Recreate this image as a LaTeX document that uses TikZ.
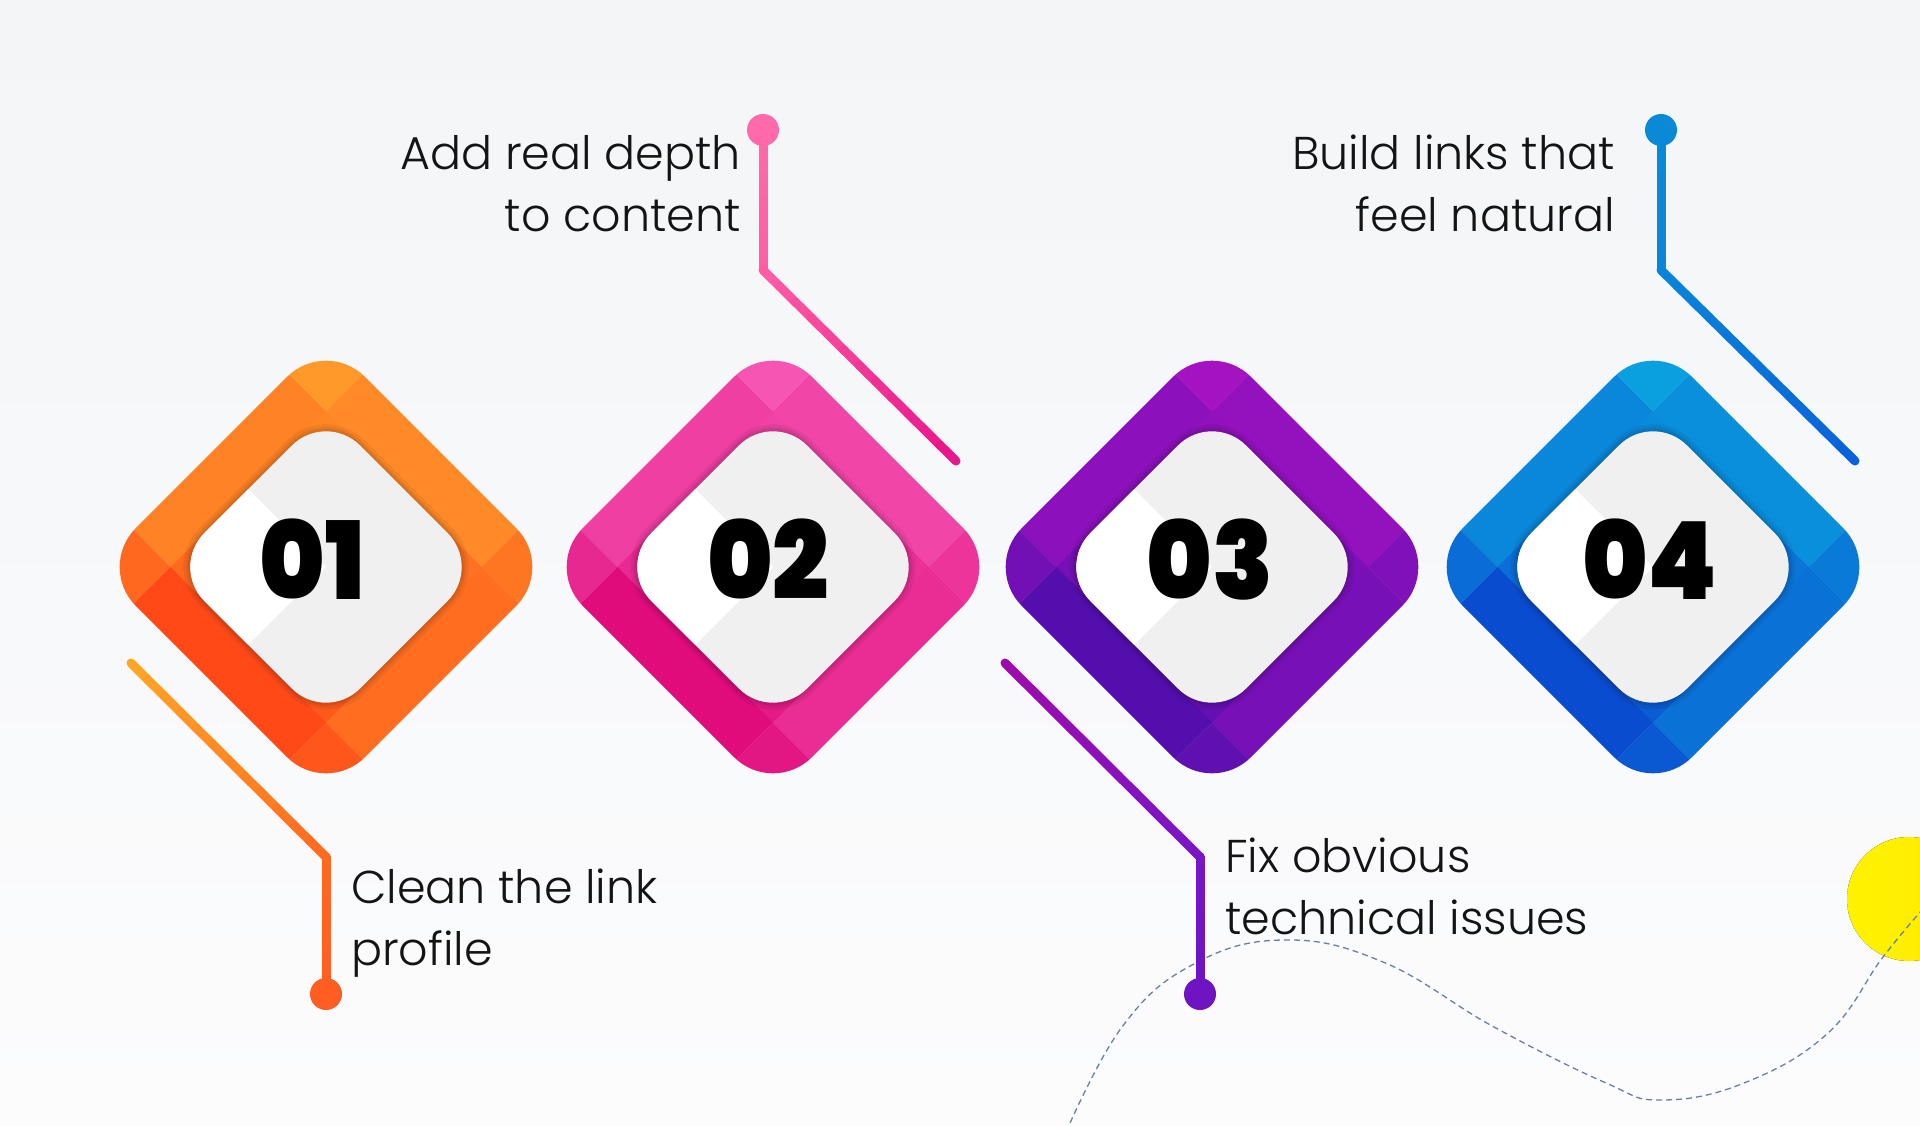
\documentclass[tikz,border=0pt]{standalone}
\usepackage{fontspec}
\usetikzlibrary{calc}
\newfontfamily\lightfont{Poppins}[UprightFont=* Light]
\newfontfamily\numfont{Poppins}[UprightFont=* Black, FakeStretch=0.92]
% background
\definecolor{bgtop}{HTML}{F3F5F7}
\definecolor{bgbot}{HTML}{FCFCFD}
% diamond colours
\definecolor{orT}{HTML}{FF9A2A}\definecolor{orB}{HTML}{FF4A18}
\definecolor{piT}{HTML}{F655B3}\definecolor{piB}{HTML}{E00C7C}
\definecolor{puT}{HTML}{A412C2}\definecolor{puB}{HTML}{540EAE}
\definecolor{blT}{HTML}{0AA0E0}\definecolor{blB}{HTML}{0A4CD0}
\definecolor{innergray}{HTML}{F0F0F0}
% connector colours
\definecolor{oA}{HTML}{FFA826}\definecolor{oB}{HTML}{FF6A20}\definecolor{oC}{HTML}{FF5E22}
\definecolor{pA}{HTML}{FF6AAA}\definecolor{pB}{HTML}{FF5FA5}\definecolor{pC}{HTML}{E8148C}
\definecolor{uA}{HTML}{A00AAC}\definecolor{uB}{HTML}{7A16C6}\definecolor{uC}{HTML}{6E14C0}
\definecolor{bA}{HTML}{0A8AD6}\definecolor{bB}{HTML}{0A86D8}\definecolor{bC}{HTML}{0A62DC}
\definecolor{dashcol}{HTML}{6A7FA8}
\definecolor{yel}{HTML}{FFEA00}\definecolor{yelL}{HTML}{FFF200}
\definecolor{txt}{HTML}{141414}

% mapping in the rotated frame: top=(+,-), right=(+,+), bottom=(-,+), left=(-,-)
\newcommand{\facetdiamond}[4]{%
\begin{scope}[shift={(#1,#2)}, rotate=45]
  \begin{scope}
    \clip[rounded corners=55pt] (-162,-162) rectangle (162,162);
    % inner quadrants (seen only in the rounded cut-outs of the inner square)
    \fill[#4!25!#3] (0,0) rectangle (111,-111);
    \fill[#4!50!#3] (0,0) rectangle (111,111);
    \fill[#4!80!#3] (0,0) rectangle (-111,111);
    \fill[#4!60!#3] (0,0) rectangle (-111,-111);
    % ring facets
    \fill[#4!0!#3]   (110,-200) rectangle (200,-110);   % top corner
    \fill[#4!20!#3]  (110,-110) rectangle (200,110);    % upper-right band
    \fill[#4!30!#3]  (-110,-200) rectangle (110,-110);  % upper-left band
    \fill[#4!45!#3]  (110,110) rectangle (200,200);     % right corner
    \fill[#4!55!#3]  (-110,110) rectangle (110,200);    % lower-right band
    \fill[#4!62!#3]  (-200,-200) rectangle (-110,-110); % left corner
    \fill[#4!85!#3]  (-200,110) rectangle (-110,200);   % bottom corner
    \fill[#4!100!#3] (-200,-110) rectangle (-110,110);  % lower-left band
  \end{scope}
  \foreach \s in {7,4,2}{
    \fill[black, opacity=0.06, rounded corners=48pt+\s pt] (-110-\s,-110-\s) rectangle (110+\s,110+\s);
  }
  \fill[innergray, rounded corners=48pt] (-110,-110) rectangle (110,110);
  \begin{scope}
    \clip[rounded corners=48pt] (-110,-110) rectangle (110,110);
    \fill[white] (-120,-120) rectangle (0,0);
  \end{scope}
\end{scope}}

\newcommand{\gradseg}[4]{%
  \foreach \k in {0,...,11}{%
    \pgfmathsetmacro\ta{\k/12}%
    \pgfmathsetmacro\tb{(\k+1)/12}%
    \pgfmathtruncatemacro\pc{100-(\k+0.5)*100/12}%
    \draw[conn, color=#3!\pc!#4] ($(#1)!\ta!(#2)$) -- ($(#1)!\tb!(#2)$);
  }}

\tikzset{
  conn/.style={line width=9pt, line cap=round},
  dotst/.style={circle, inner sep=0pt, minimum size=32pt, draw=none},
  numst/.style={anchor=base, inner sep=0pt, text=black, font=\numfont\fontsize{108pt}{108pt}\selectfont},
  lbl/.style={inner sep=0pt, text=txt, font=\lightfont\fontsize{46pt}{62pt}\selectfont},
}

\begin{document}
\begin{tikzpicture}[x=1pt, y=-1pt]
\useasboundingbox (0,0) rectangle (1920,1126);
\clip (0,0) rectangle (1920,1126);
\fill[top color=bgtop, bottom color=bgbot] (0,0) rectangle (1920,1126);

% yellow circle and dashed curve
\fill[left color=yelL, right color=yel] (1909,899) circle[radius=62];
\draw[dashcol, line width=1.3pt, dash pattern=on 6pt off 4pt]
  plot[smooth, tension=0.7] coordinates {(1066,1132) (1122,1027) (1192,965) (1283,940) (1383,962) (1494,1027) (1606,1083) (1661,1100) (1744,1083) (1828,1033) (1883,957) (1928,903)};

% diamonds
\coordinate (c1) at (326,567);
\coordinate (c2) at (773,567);
\coordinate (c3) at (1212,567);
\coordinate (c4) at (1653,567);
\facetdiamond{326}{567}{orT}{orB}
\facetdiamond{773}{567}{piT}{piB}
\facetdiamond{1212}{567}{puT}{puB}
\facetdiamond{1653}{567}{blT}{blB}

\node[numst] (n1) at (312,599) {01};
\node[numst] (n2) at (768,599) {02};
\node[numst] (n3) at (1210,599) {03};
\node[numst] (n4) at (1650,599) {04};

% connector 1 (orange)
\coordinate (s1) at (131,663);
\coordinate (k1) at (326,857);
\node[dotst, fill=oC] (d1) at (326,994) {};
\gradseg{s1}{k1}{oA}{oB}
\gradseg{k1}{d1.center}{oB}{oC}

% connector 2 (pink)
\node[dotst, fill=pA] (d2) at (763,130) {};
\coordinate (k2) at (763,270);
\coordinate (e2) at (956,461);
\gradseg{d2.center}{k2}{pA}{pB}
\gradseg{k2}{e2}{pB}{pC}

% connector 3 (purple)
\coordinate (s3) at (1005,663);
\coordinate (k3) at (1200,857);
\node[dotst, fill=uC] (d3) at (1200,994) {};
\gradseg{s3}{k3}{uA}{uB}
\gradseg{k3}{d3.center}{uB}{uC}

% connector 4 (blue)
\node[dotst, fill=bA] (d4) at (1661,130) {};
\coordinate (k4) at (1661,270);
\coordinate (e4) at (1855,461);
\gradseg{d4.center}{k4}{bA}{bB}
\gradseg{k4}{e4}{bB}{bC}

% labels
\node[lbl, anchor=base west] (t1) at (351,903) {\parbox[t]{420pt}{\raggedright Clean the link\\profile}};
\node[lbl, anchor=base east] (t2) at (741,170) {\parbox[t]{420pt}{\raggedleft Add real depth\\to content}};
\node[lbl, anchor=base west] (t3) at (1225,872) {\parbox[t]{420pt}{\raggedright Fix obvious\\technical issues}};
\node[lbl, anchor=base east] (t4) at (1615,170) {\parbox[t]{420pt}{\raggedleft Build links that\\feel natural}};
\end{tikzpicture}
\end{document}
